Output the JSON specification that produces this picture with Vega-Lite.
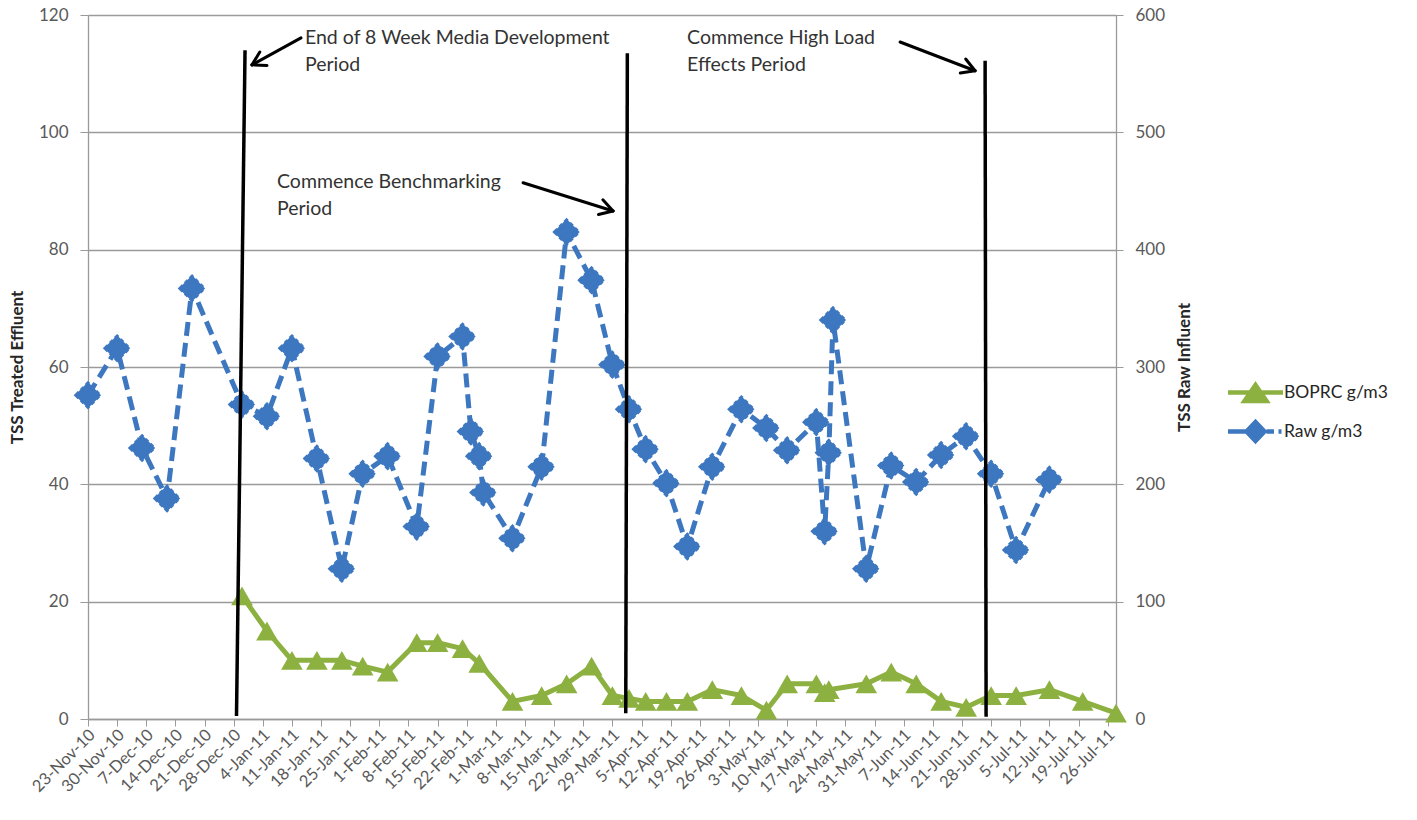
{
  "$schema": "https://vega.github.io/schema/vega-lite/v6.json",
  "width": 1028,
  "height": 704,
  "autosize": {"type": "none"},
  "padding": {"left": 88, "top": 15, "right": 301, "bottom": 101},
  "background": "white",
  "config": {
    "font": "Lato",
    "view": {"stroke": null},
    "axis": {"labelFont": "Lato", "titleFont": "Lato"},
    "legend": {"labelFont": "Lato"},
    "text": {"font": "Lato"}
  },
  "datasets": {
    "boprc": [
      {"date": "2010-12-30", "series": "BOPRC g/m3", "tss": 21},
      {"date": "2011-01-05", "series": "BOPRC g/m3", "tss": 15},
      {"date": "2011-01-11", "series": "BOPRC g/m3", "tss": 10},
      {"date": "2011-01-17", "series": "BOPRC g/m3", "tss": 10},
      {"date": "2011-01-23", "series": "BOPRC g/m3", "tss": 10},
      {"date": "2011-01-28", "series": "BOPRC g/m3", "tss": 9},
      {"date": "2011-02-03", "series": "BOPRC g/m3", "tss": 8},
      {"date": "2011-02-10", "series": "BOPRC g/m3", "tss": 13},
      {"date": "2011-02-15", "series": "BOPRC g/m3", "tss": 13},
      {"date": "2011-02-21", "series": "BOPRC g/m3", "tss": 12},
      {"date": "2011-02-25", "series": "BOPRC g/m3", "tss": 9.5},
      {"date": "2011-03-05", "series": "BOPRC g/m3", "tss": 3},
      {"date": "2011-03-12", "series": "BOPRC g/m3", "tss": 4},
      {"date": "2011-03-18", "series": "BOPRC g/m3", "tss": 6},
      {"date": "2011-03-24", "series": "BOPRC g/m3", "tss": 9},
      {"date": "2011-03-29", "series": "BOPRC g/m3", "tss": 4},
      {"date": "2011-04-02", "series": "BOPRC g/m3", "tss": 3.5},
      {"date": "2011-04-06", "series": "BOPRC g/m3", "tss": 3},
      {"date": "2011-04-11", "series": "BOPRC g/m3", "tss": 3},
      {"date": "2011-04-16", "series": "BOPRC g/m3", "tss": 3},
      {"date": "2011-04-22", "series": "BOPRC g/m3", "tss": 5},
      {"date": "2011-04-29", "series": "BOPRC g/m3", "tss": 4},
      {"date": "2011-05-05", "series": "BOPRC g/m3", "tss": 1.5},
      {"date": "2011-05-10", "series": "BOPRC g/m3", "tss": 6},
      {"date": "2011-05-17", "series": "BOPRC g/m3", "tss": 6},
      {"date": "2011-05-19", "series": "BOPRC g/m3", "tss": 4.5},
      {"date": "2011-05-20", "series": "BOPRC g/m3", "tss": 5},
      {"date": "2011-05-29", "series": "BOPRC g/m3", "tss": 6},
      {"date": "2011-06-04", "series": "BOPRC g/m3", "tss": 8},
      {"date": "2011-06-10", "series": "BOPRC g/m3", "tss": 6},
      {"date": "2011-06-16", "series": "BOPRC g/m3", "tss": 3},
      {"date": "2011-06-22", "series": "BOPRC g/m3", "tss": 2},
      {"date": "2011-06-28", "series": "BOPRC g/m3", "tss": 4},
      {"date": "2011-07-04", "series": "BOPRC g/m3", "tss": 4},
      {"date": "2011-07-12", "series": "BOPRC g/m3", "tss": 5},
      {"date": "2011-07-20", "series": "BOPRC g/m3", "tss": 3},
      {"date": "2011-07-28", "series": "BOPRC g/m3", "tss": 1}
    ],
    "raw": [
      {"date": "2010-11-23", "series": "Raw g/m3", "tss": 276},
      {"date": "2010-11-30", "series": "Raw g/m3", "tss": 316},
      {"date": "2010-12-06", "series": "Raw g/m3", "tss": 231},
      {"date": "2010-12-12", "series": "Raw g/m3", "tss": 188},
      {"date": "2010-12-18", "series": "Raw g/m3", "tss": 367},
      {"date": "2010-12-30", "series": "Raw g/m3", "tss": 268},
      {"date": "2011-01-05", "series": "Raw g/m3", "tss": 258},
      {"date": "2011-01-11", "series": "Raw g/m3", "tss": 316},
      {"date": "2011-01-17", "series": "Raw g/m3", "tss": 222},
      {"date": "2011-01-23", "series": "Raw g/m3", "tss": 128},
      {"date": "2011-01-28", "series": "Raw g/m3", "tss": 209},
      {"date": "2011-02-03", "series": "Raw g/m3", "tss": 224},
      {"date": "2011-02-10", "series": "Raw g/m3", "tss": 164},
      {"date": "2011-02-15", "series": "Raw g/m3", "tss": 309},
      {"date": "2011-02-21", "series": "Raw g/m3", "tss": 326},
      {"date": "2011-02-23", "series": "Raw g/m3", "tss": 245},
      {"date": "2011-02-25", "series": "Raw g/m3", "tss": 224},
      {"date": "2011-02-26", "series": "Raw g/m3", "tss": 193},
      {"date": "2011-03-05", "series": "Raw g/m3", "tss": 154},
      {"date": "2011-03-12", "series": "Raw g/m3", "tss": 215},
      {"date": "2011-03-18", "series": "Raw g/m3", "tss": 415},
      {"date": "2011-03-24", "series": "Raw g/m3", "tss": 374},
      {"date": "2011-03-29", "series": "Raw g/m3", "tss": 302},
      {"date": "2011-04-02", "series": "Raw g/m3", "tss": 264},
      {"date": "2011-04-06", "series": "Raw g/m3", "tss": 230},
      {"date": "2011-04-11", "series": "Raw g/m3", "tss": 201},
      {"date": "2011-04-16", "series": "Raw g/m3", "tss": 147},
      {"date": "2011-04-22", "series": "Raw g/m3", "tss": 215},
      {"date": "2011-04-29", "series": "Raw g/m3", "tss": 264},
      {"date": "2011-05-05", "series": "Raw g/m3", "tss": 248},
      {"date": "2011-05-10", "series": "Raw g/m3", "tss": 229},
      {"date": "2011-05-17", "series": "Raw g/m3", "tss": 253},
      {"date": "2011-05-19", "series": "Raw g/m3", "tss": 160},
      {"date": "2011-05-20", "series": "Raw g/m3", "tss": 227},
      {"date": "2011-05-21", "series": "Raw g/m3", "tss": 340},
      {"date": "2011-05-29", "series": "Raw g/m3", "tss": 128},
      {"date": "2011-06-04", "series": "Raw g/m3", "tss": 216},
      {"date": "2011-06-10", "series": "Raw g/m3", "tss": 202},
      {"date": "2011-06-16", "series": "Raw g/m3", "tss": 225},
      {"date": "2011-06-22", "series": "Raw g/m3", "tss": 241},
      {"date": "2011-06-28", "series": "Raw g/m3", "tss": 209},
      {"date": "2011-07-04", "series": "Raw g/m3", "tss": 144},
      {"date": "2011-07-12", "series": "Raw g/m3", "tss": 204}
    ],
    "periods": [
      {"date": "2010-12-28T16:19Z", "level": 0.5, "date_end": "2010-12-30T17:31Z", "level_end": 114.0},
      {"date": "2011-04-01T05:02Z", "level": 1.0, "date_end": "2011-04-01T14:10Z", "level_end": 113.5},
      {"date": "2011-06-26T18:58Z", "level": 0.4, "date_end": "2011-06-26T13:12Z", "level_end": 112.2}
    ],
    "arrows": [
      {"date": "2011-01-13T04:19Z", "level": 116.1, "date_end": "2011-01-01T09:50Z", "level_end": 111.5},
      {"date": "2011-01-01T09:50Z", "level": 111.5, "date_end": "2011-01-05T00:14Z", "level_end": 111.4},
      {"date": "2011-01-01T09:50Z", "level": 111.5, "date_end": "2011-01-03T06:43Z", "level_end": 113.7},
      {"date": "2011-03-07T12:43Z", "level": 91.4, "date_end": "2011-03-29T03:50Z", "level_end": 86.6},
      {"date": "2011-03-29T03:50Z", "level": 86.6, "date_end": "2011-03-26T17:02Z", "level_end": 88.5},
      {"date": "2011-03-29T03:50Z", "level": 86.6, "date_end": "2011-03-25T15:36Z", "level_end": 86.0},
      {"date": "2011-06-06T02:53Z", "level": 115.4, "date_end": "2011-06-24T03:22Z", "level_end": 110.5},
      {"date": "2011-06-24T03:22Z", "level": 110.5, "date_end": "2011-06-21T21:22Z", "level_end": 112.5},
      {"date": "2011-06-24T03:22Z", "level": 110.5, "date_end": "2011-06-20T14:10Z", "level_end": 110.1}
    ],
    "notes": [
      {"date": "2011-01-14T03:22Z", "level": 115.0, "note": "End of 8 Week Media  Development"},
      {"date": "2011-01-14T03:22Z", "level": 110.45, "note": "Period"},
      {"date": "2011-01-07T10:05Z", "level": 90.46, "note": "Commence Benchmarking"},
      {"date": "2011-01-07T10:05Z", "level": 85.9, "note": "Period"},
      {"date": "2011-04-15T22:34Z", "level": 115.0, "note": "Commence High  Load"},
      {"date": "2011-04-15T22:34Z", "level": 110.45, "note": "Effects Period"}
    ]
  },
  "encoding": {
    "x": {
      "field": "date",
      "type": "temporal",
      "scale": {
        "type": "utc",
        "nice": false,
        "domain": [
          {"year": 2010, "month": 11, "date": 23, "utc": true},
          {"year": 2011, "month": 7, "date": 28, "utc": true}
        ]
      },
      "axis": {
        "title": null,
        "format": "%-d-%b-%y",
        "values": [
          {"year": 2010, "month": 11, "date": 23, "utc": true},
          {"year": 2010, "month": 11, "date": 30, "utc": true},
          {"year": 2010, "month": 12, "date": 7, "utc": true},
          {"year": 2010, "month": 12, "date": 14, "utc": true},
          {"year": 2010, "month": 12, "date": 21, "utc": true},
          {"year": 2010, "month": 12, "date": 28, "utc": true},
          {"year": 2011, "month": 1, "date": 4, "utc": true},
          {"year": 2011, "month": 1, "date": 11, "utc": true},
          {"year": 2011, "month": 1, "date": 18, "utc": true},
          {"year": 2011, "month": 1, "date": 25, "utc": true},
          {"year": 2011, "month": 2, "date": 1, "utc": true},
          {"year": 2011, "month": 2, "date": 8, "utc": true},
          {"year": 2011, "month": 2, "date": 15, "utc": true},
          {"year": 2011, "month": 2, "date": 22, "utc": true},
          {"year": 2011, "month": 3, "date": 1, "utc": true},
          {"year": 2011, "month": 3, "date": 8, "utc": true},
          {"year": 2011, "month": 3, "date": 15, "utc": true},
          {"year": 2011, "month": 3, "date": 22, "utc": true},
          {"year": 2011, "month": 3, "date": 29, "utc": true},
          {"year": 2011, "month": 4, "date": 5, "utc": true},
          {"year": 2011, "month": 4, "date": 12, "utc": true},
          {"year": 2011, "month": 4, "date": 19, "utc": true},
          {"year": 2011, "month": 4, "date": 26, "utc": true},
          {"year": 2011, "month": 5, "date": 3, "utc": true},
          {"year": 2011, "month": 5, "date": 10, "utc": true},
          {"year": 2011, "month": 5, "date": 17, "utc": true},
          {"year": 2011, "month": 5, "date": 24, "utc": true},
          {"year": 2011, "month": 5, "date": 31, "utc": true},
          {"year": 2011, "month": 6, "date": 7, "utc": true},
          {"year": 2011, "month": 6, "date": 14, "utc": true},
          {"year": 2011, "month": 6, "date": 21, "utc": true},
          {"year": 2011, "month": 6, "date": 28, "utc": true},
          {"year": 2011, "month": 7, "date": 5, "utc": true},
          {"year": 2011, "month": 7, "date": 12, "utc": true},
          {"year": 2011, "month": 7, "date": 19, "utc": true},
          {"year": 2011, "month": 7, "date": 26, "utc": true}
        ],
        "grid": false,
        "labelAngle": -45,
        "labelAlign": "right",
        "labelBaseline": "middle",
        "labelPadding": 6,
        "labelOffset": 4,
        "labelOverlap": false,
        "labelFlush": false,
        "labelBound": false,
        "labelFontSize": 16.5,
        "labelColor": "#595959",
        "domainColor": "#9a9a9a",
        "domainWidth": 1.3,
        "tickColor": "#9a9a9a",
        "tickSize": 7
      }
    }
  },
  "layer": [
    {
      "data": {"name": "boprc"},
      "encoding": {
        "y": {
          "field": "tss",
          "type": "quantitative",
          "scale": {"domain": [0, 120], "nice": false},
          "axis": {
            "orient": "left",
            "values": [0, 20, 40, 60, 80, 100, 120],
            "grid": true,
            "gridColor": "#9a9a9a",
            "gridWidth": 1.3,
            "domainColor": "#9a9a9a",
            "domainWidth": 1.3,
            "tickColor": "#9a9a9a",
            "tickSize": 8,
            "labelPadding": 12,
            "labelFontSize": 17,
            "labelColor": "#595959",
            "title": "TSS Treated Effluent",
            "titleFontSize": 17,
            "titleFontWeight": "bold",
            "titleColor": "#262626",
            "titleAngle": 270,
            "titleBaseline": "middle",
            "titleX": -71
          }
        }
      },
      "layer": [
        {
          "mark": {"type": "line", "color": "#8db141", "strokeWidth": 5, "strokeJoin": "round"}
        },
        {
          "mark": {"type": "point", "shape": "triangle-up", "filled": true, "size": 470, "opacity": 1},
          "encoding": {
            "color": {
              "field": "series",
              "type": "nominal",
              "scale": {"domain": ["BOPRC g/m3"], "range": ["#8db141"]},
              "legend": {
                "title": null,
                "orient": "none",
                "legendX": 1155,
                "legendY": 365,
                "padding": 0,
                "symbolType": "M-2.75,0H2.75M0,-0.75L1.1,0.85H-1.1Z",
                "symbolSize": 400,
                "symbolStrokeColor": "#8db141",
                "symbolStrokeWidth": 4.5,
                "symbolOpacity": 1,
                "labelFontSize": 17.5,
                "labelColor": "#262626",
                "labelOffset": 16
              }
            }
          }
        }
      ]
    },
    {
      "data": {"name": "raw"},
      "encoding": {
        "y": {
          "field": "tss",
          "type": "quantitative",
          "scale": {"domain": [0, 600], "nice": false},
          "axis": {
            "orient": "right",
            "values": [0, 100, 200, 300, 400, 500, 600],
            "grid": false,
            "domainColor": "#9a9a9a",
            "domainWidth": 1.3,
            "tickColor": "#9a9a9a",
            "tickSize": 7,
            "labelPadding": 12,
            "labelFontSize": 17,
            "labelColor": "#595959",
            "title": "TSS Raw Influent",
            "titleFontSize": 17,
            "titleFontWeight": "bold",
            "titleColor": "#262626",
            "titleAngle": 270,
            "titleBaseline": "middle",
            "titleX": 68
          }
        }
      },
      "layer": [
        {
          "mark": {"type": "line", "color": "#3d77c0", "strokeWidth": 5, "strokeDash": [14, 7]}
        },
        {
          "mark": {"type": "point", "shape": "diamond", "filled": true, "size": 420, "opacity": 1, "stroke": "#3d77c0", "strokeWidth": 4},
          "encoding": {
            "fill": {
              "field": "series",
              "type": "nominal",
              "scale": {"domain": ["Raw g/m3"], "range": ["#3d77c0"]},
              "legend": {
                "title": null,
                "orient": "none",
                "legendX": 1155,
                "legendY": 404,
                "padding": 0,
                "symbolType": "M-2.75,0H-0.9M1.1,0H1.85M2.3,0H2.6M0,-0.95L0.9,0L0,0.95L-0.9,0Z",
                "symbolSize": 400,
                "symbolStrokeColor": "#3d77c0",
                "symbolStrokeWidth": 4.5,
                "symbolOpacity": 1,
                "labelFontSize": 17.5,
                "labelColor": "#262626",
                "labelOffset": 16
              }
            }
          }
        },
        {
          "mark": {"type": "point", "shape": "diamond", "filled": false, "size": 560, "opacity": 1, "stroke": "#3d77c0", "strokeWidth": 3.5, "strokeDash": [4, 3]}
        }
      ]
    },
    {
      "encoding": {
        "y": {
          "field": "level",
          "type": "quantitative",
          "scale": {"domain": [0, 120], "nice": false},
          "axis": null
        }
      },
      "layer": [
        {
          "data": {"name": "periods"},
          "mark": {"type": "rule", "color": "#000000", "strokeWidth": 3.5},
          "encoding": {
            "x2": {"field": "date_end"},
            "y2": {"field": "level_end"}
          }
        },
        {
          "data": {"name": "arrows"},
          "mark": {"type": "rule", "color": "#000000", "strokeWidth": 3, "strokeCap": "round"},
          "encoding": {
            "x2": {"field": "date_end"},
            "y2": {"field": "level_end"}
          }
        },
        {
          "data": {"name": "notes"},
          "mark": {"type": "text", "align": "left", "baseline": "alphabetic", "fontSize": 19.5, "color": "#333333"},
          "encoding": {
            "text": {"field": "note", "type": "nominal"}
          }
        }
      ]
    }
  ],
  "resolve": {"scale": {"y": "independent"}}
}
